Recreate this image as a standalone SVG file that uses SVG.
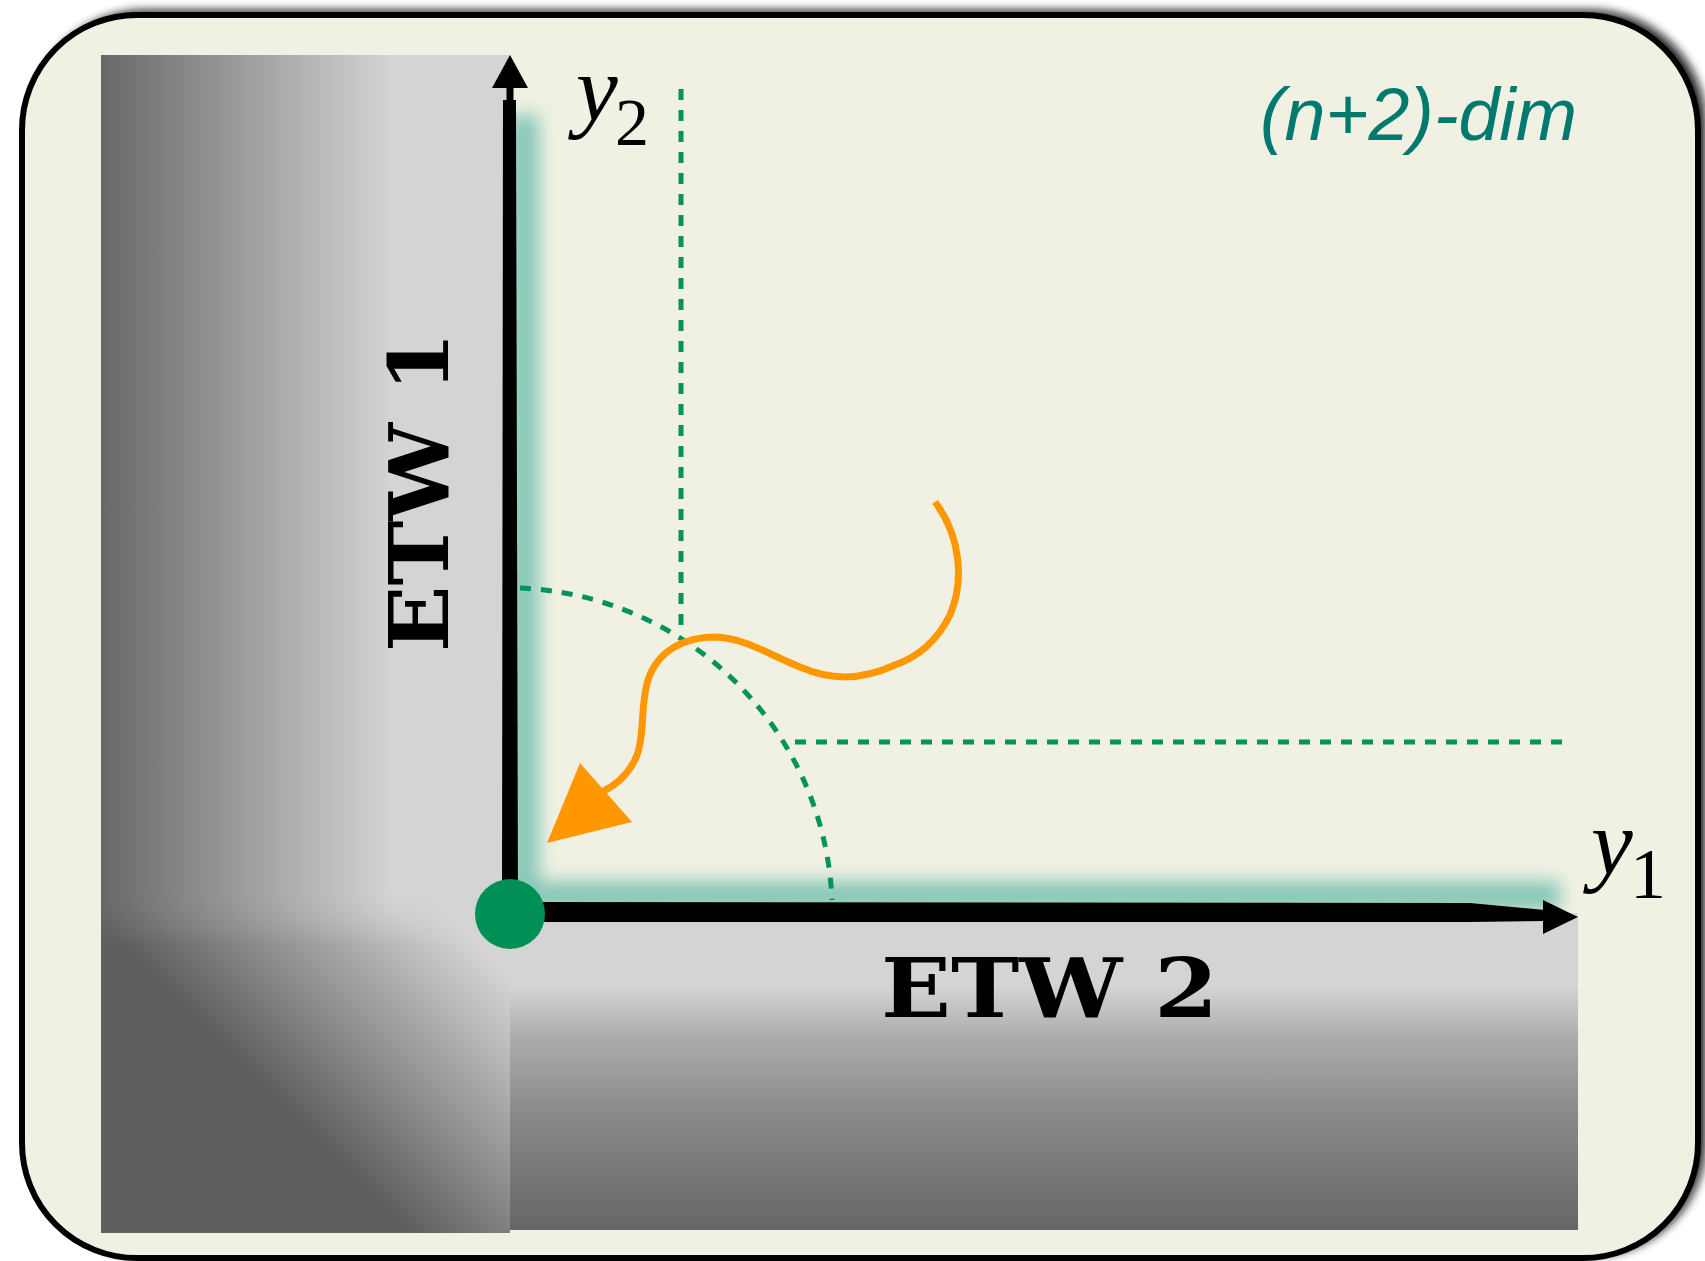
<svg xmlns="http://www.w3.org/2000/svg" width="1705" height="1261" viewBox="0 0 1705 1261">
  <defs>
    <filter id="shadow" x="-5%" y="-5%" width="110%" height="110%">
      <feGaussianBlur stdDeviation="5"/>
    </filter>
    <filter id="glowBlur" x="-10%" y="-10%" width="120%" height="120%">
      <feGaussianBlur stdDeviation="9"/>
    </filter>
    <linearGradient id="gLeft" gradientUnits="userSpaceOnUse" x1="101" y1="0" x2="510" y2="0">
      <stop offset="0" stop-color="#686868"/>
      <stop offset="0.71" stop-color="#d4d4d4"/>
      <stop offset="1" stop-color="#d4d4d4"/>
    </linearGradient>
    <linearGradient id="gBottom" gradientUnits="userSpaceOnUse" x1="0" y1="913" x2="0" y2="1230">
      <stop offset="0" stop-color="#d4d4d4"/>
      <stop offset="0.23" stop-color="#d4d4d4"/>
      <stop offset="0.40" stop-color="#ababab"/>
      <stop offset="0.63" stop-color="#8a8a8a"/>
      <stop offset="1" stop-color="#666666"/>
    </linearGradient>
    <linearGradient id="gCorner" gradientUnits="userSpaceOnUse" x1="520" y1="990" x2="345" y2="1165">
      <stop offset="0" stop-color="#d4d4d4"/>
      <stop offset="1" stop-color="#5f5f5f"/>
    </linearGradient>
    <linearGradient id="gFade" gradientUnits="userSpaceOnUse" x1="0" y1="895" x2="0" y2="945">
      <stop offset="0" stop-color="#fff" stop-opacity="0"/>
      <stop offset="1" stop-color="#fff" stop-opacity="1"/>
    </linearGradient>
    <mask id="cornerMask" maskUnits="userSpaceOnUse" x="0" y="0" width="1705" height="1261">
      <rect x="101" y="895" width="409" height="338" fill="url(#gFade)"/>
    </mask>
    <clipPath id="quadrant">
      <rect x="511" y="40" width="1100" height="871"/>
    </clipPath>
    <style>
      .dash { fill: none; stroke: #00935e; stroke-width: 5; stroke-dasharray: 11 10; }
      .axis { fill: #000; }
      .etw { font-family: "DejaVu Serif", "Liberation Serif", serif; font-weight: bold; font-size: 82px; fill: #000; }
      .var { font-family: "Liberation Serif", "Times New Roman", serif; fill: #000; }
    </style>
  </defs>

  <g id="frame">
    <rect x="30" y="10" width="1676" height="1246" rx="115" ry="115" fill="#111" opacity="0.9" filter="url(#shadow)"/>
    <rect x="22" y="15" width="1676" height="1243" rx="115" ry="115" fill="#f1f1e3" stroke="#000" stroke-width="6"/>
  </g>

  <g id="etw1-panel">
    <rect x="101" y="55" width="409" height="1178" fill="url(#gLeft)"/>
    <rect x="101" y="895" width="409" height="338" fill="url(#gCorner)" mask="url(#cornerMask)"/>
  </g>
  <g id="etw2-panel">
    <rect x="510" y="913" width="1068" height="317" fill="url(#gBottom)"/>
  </g>

  <g id="glow" clip-path="url(#quadrant)">
    <polyline points="524,115 524,896 1560,896" fill="none" stroke="#86c7b7" stroke-width="30" filter="url(#glowBlur)"/>
  </g>

  <g id="guides">
    <line class="dash" x1="681" y1="89" x2="681" y2="626"/>
    <line class="dash" x1="795" y1="742" x2="1565" y2="742"/>
    <path class="dash" d="M520,588 A326,326 0 0 1 832,900"/>
  </g>

  <g id="axes">
    <line x1="510" y1="85" x2="510" y2="104" stroke="#000" stroke-width="7"/>
    <polygon class="axis" points="503,100 516,100 518,914 502,914"/>
    <polygon class="axis" points="510,55 528,88 492,88"/>
    <polygon class="axis" points="510,902 1470,903 1545,910 1545,921 1470,922 510,922"/>
    <polygon class="axis" points="1578,917 1543,900 1543,934"/>
  </g>

  <g id="connectors">
    <path d="M935,502 C960,535 965,580 950,615 C935,645 915,658 895,665 C860,681 830,680 800,667 C770,655 745,638 715,637 C685,637 658,650 648,680 C640,705 645,735 637,755 C630,773 617,785 600,793" fill="none" stroke="#ff9800" stroke-width="7"/>
    <polygon points="547,843 580,763 632,822" fill="#ff9800"/>
  </g>

  <g id="origin">
    <circle cx="510" cy="914" r="35" fill="#008f55"/>
  </g>

  <g id="labels">
    <text class="etw" transform="translate(448,652) rotate(-90)" textLength="320" lengthAdjust="spacingAndGlyphs">ETW 1</text>
    <text class="etw" x="881" y="1017" textLength="337" lengthAdjust="spacingAndGlyphs">ETW 2</text>
    <text class="var" x="576" y="120" font-size="94" font-style="italic">y</text>
    <text class="var" x="615" y="145" font-size="68">2</text>
    <text class="var" x="1591" y="874" font-size="94" font-style="italic">y</text>
    <text class="var" x="1630" y="898" font-size="72">1</text>
    <text x="1260" y="140" font-family="Liberation Sans, Arial, sans-serif" font-style="italic" font-size="74" fill="#007a6e" textLength="317" lengthAdjust="spacingAndGlyphs">(n+2)-dim</text>
  </g>
</svg>
